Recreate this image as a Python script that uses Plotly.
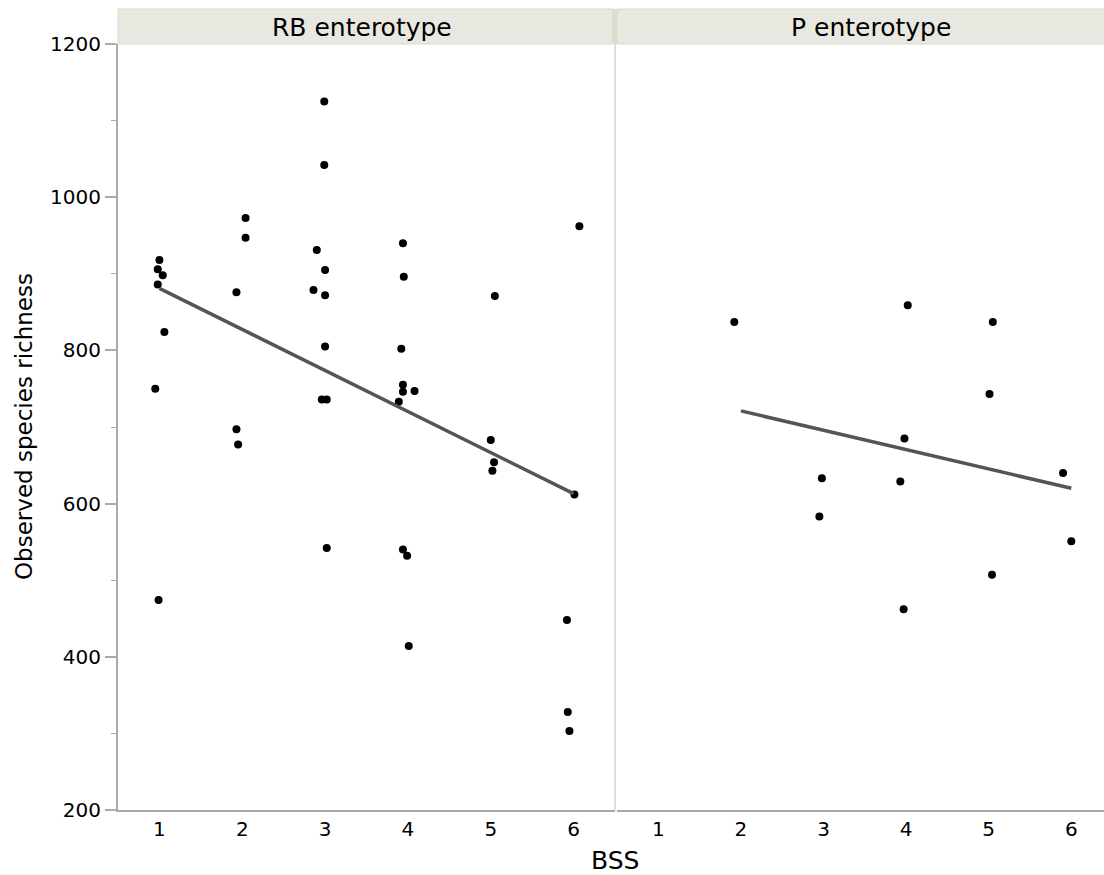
import plotly.graph_objects as go

# ---- data ----
rb_bss = [1.00, 0.98, 1.04, 0.98, 1.06, 0.95, 0.99,
          2.04, 2.04, 1.93, 1.93, 1.95,
          2.99, 2.99, 2.90, 3.00, 2.86, 3.00, 3.00, 2.96, 3.02, 3.02,
          3.94, 3.95, 3.92, 3.94, 3.94, 4.08, 3.89, 3.94, 3.99, 4.01,
          5.05, 5.00, 5.04, 5.02,
          6.01, 6.07, 5.92, 5.93, 5.95]
rb_rich = [918, 906, 898, 886, 824, 750, 474,
           973, 947, 876, 697, 677,
           1125, 1042, 931, 905, 879, 872, 805, 736, 736, 542,
           940, 896, 802, 755, 746, 747, 733, 540, 532, 414,
           871, 683, 654, 643,
           612, 962, 448, 328, 303]

p_bss = [1.92, 4.02, 5.05, 5.01, 3.98, 2.98, 3.93, 2.95, 5.90, 6.00, 5.04, 3.97]
p_rich = [837, 859, 837, 743, 685, 633, 629, 583, 640, 551, 507, 462]

rb_fit_x = [1, 6]
rb_fit_y = [881, 613]
p_fit_x = [2, 6]
p_fit_y = [721, 620]

panel_titles = ["RB enterotype", "P enterotype"]
x_ticks = [1, 2, 3, 4, 5, 6]
y_ticks = [200, 400, 600, 800, 1000, 1200]

# ---- geometry (page pixels; body margin removed below) ----
W, H = 1104, 875
PL, PT, PR, PB = 118, 44, 1104, 810        # plot area in page pixels
ML, MT = PL, PT
MR = W - PR
MB = H - PB
PW = PR - PL
PH = PB - PT

def px(x):
    return (x - PL) / PW

def py(y):
    return (PB - y) / PH

left_dom = [0, px(615)]
right_dom = [px(617), 1]

FONT = "DejaVu Sans"
AX = "#aaaaaa"

fig = go.Figure()
fig.add_trace(go.Scatter(x=rb_bss, y=rb_rich, mode="markers",
                         marker=dict(color="black", size=8),
                         xaxis="x", yaxis="y", showlegend=False))
fig.add_trace(go.Scatter(x=rb_fit_x, y=rb_fit_y, mode="lines",
                         line=dict(color="#555555", width=3.5),
                         xaxis="x", yaxis="y", showlegend=False))
fig.add_trace(go.Scatter(x=p_bss, y=p_rich, mode="markers",
                         marker=dict(color="black", size=8),
                         xaxis="x2", yaxis="y2", showlegend=False))
fig.add_trace(go.Scatter(x=p_fit_x, y=p_fit_y, mode="lines",
                         line=dict(color="#555555", width=3.5),
                         xaxis="x2", yaxis="y2", showlegend=False))

xcommon = dict(tickvals=x_ticks, ticktext=[str(t) for t in x_ticks],
               showgrid=False, zeroline=False, showline=True,
               linecolor=AX, linewidth=2, ticks="",
               tickfont=dict(family=FONT, size=20, color="black"))
fig.update_layout(
    width=W, height=H,
    margin=dict(l=ML, r=MR, t=MT, b=MB, pad=0),
    paper_bgcolor="white", plot_bgcolor="white",
    font=dict(family=FONT, color="black"),
    xaxis=dict(domain=left_dom, range=[0.5, 6.5], anchor="y", **xcommon),
    xaxis2=dict(domain=right_dom, range=[0.5, 0.5 + (PR - 617) / 82.6],
                anchor="y2", **xcommon),
    yaxis=dict(range=[200, 1200], tickvals=y_ticks,
               showgrid=False, zeroline=False, showline=True,
               linecolor=AX, linewidth=2, ticks="outside", ticklen=11,
               tickcolor=AX, tickwidth=2,
               minor=dict(dtick=100, tick0=100, ticks="outside", ticklen=5,
                          tickcolor=AX, tickwidth=1, showgrid=False),
               tickfont=dict(family=FONT, size=20, color="black")),
    yaxis2=dict(range=[200, 1200], anchor="x2", matches="y",
                showticklabels=False, showgrid=False, zeroline=False,
                showline=False, ticks=""),
)

shapes = []
strip_top = py(9)
shapes.append(dict(type="rect", xref="paper", yref="paper",
                   x0=px(613), x1=px(617), y0=1, y1=strip_top,
                   fillcolor="#dcdcd0", line=dict(width=0)))
shapes.append(dict(type="rect", xref="paper", yref="paper",
                   x0=0, x1=px(613), y0=1, y1=strip_top,
                   fillcolor="#e8e8e0", line=dict(color="#d9d9cc", width=1)))
shapes.append(dict(type="rect", xref="paper", yref="paper",
                   x0=px(617), x1=1.02, y0=1, y1=strip_top,
                   fillcolor="#e8e8e0", line=dict(color="#d9d9cc", width=1)))
shapes.append(dict(type="line", xref="paper", yref="paper",
                   x0=px(615), x1=px(615), y0=0, y1=1,
                   line=dict(color="#dddddd", width=2)))
fig.update_layout(shapes=shapes)

ann = []
ann.append(dict(text=panel_titles[0], xref="paper", yref="paper",
                x=px(362), y=py(27), showarrow=False,
                xanchor="center", yanchor="middle",
                font=dict(family=FONT, size=25, color="black")))
ann.append(dict(text=panel_titles[1], xref="paper", yref="paper",
                x=px(871), y=py(27), showarrow=False,
                xanchor="center", yanchor="middle",
                font=dict(family=FONT, size=25, color="black")))
ann.append(dict(text="BSS", xref="paper", yref="paper",
                x=px(615), y=py(860), showarrow=False,
                xanchor="center", yanchor="middle",
                font=dict(family=FONT, size=25, color="black")))
ann.append(dict(text="Observed species richness", xref="paper", yref="paper",
                x=px(24), y=py(427), showarrow=False,
                textangle=-90, xanchor="center", yanchor="middle",
                font=dict(family=FONT, size=23, color="black")))
fig.update_layout(annotations=ann)

fig.write_html(
    "out.html",
    config={"displayModeBar": False},
    post_script="document.body.style.margin='0';document.body.style.overflow='hidden';",
)
